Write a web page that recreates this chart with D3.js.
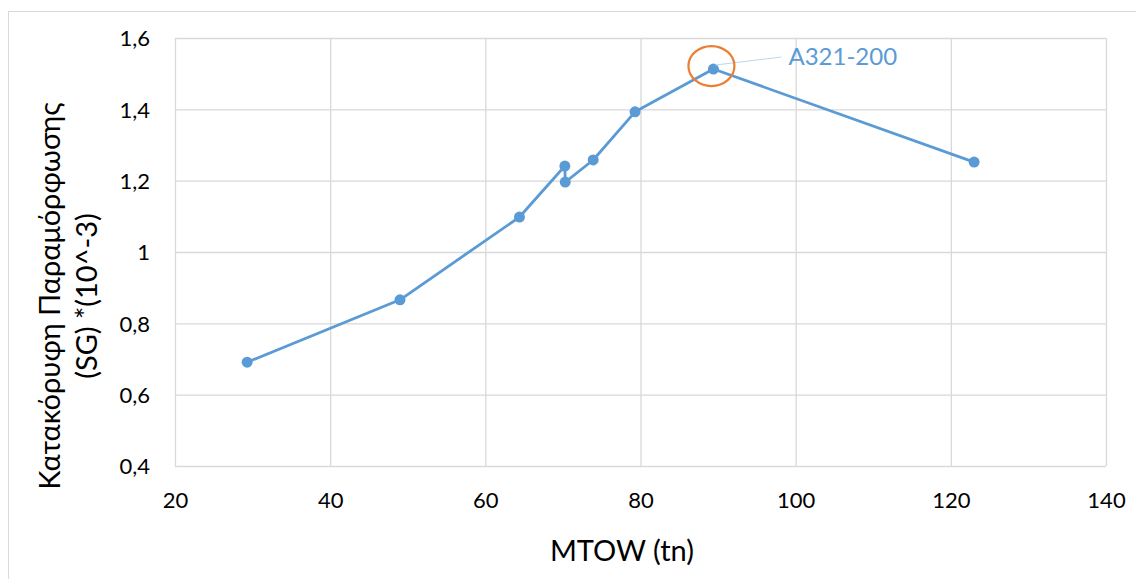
<!DOCTYPE html>
<html><head><meta charset="utf-8">
<script src="https://cdn.jsdelivr.net/npm/d3@7"></script>
<style>body{margin:0;background:#fff}svg{display:block}text{font-family:Lato,"Open Sans",sans-serif}</style>
</head><body>
<svg id="c" width="1136" height="579"></svg>
<script>
const mtow = [29.3, 49.0, 64.4, 70.25, 70.3, 73.9, 79.3, 89.4, 123.0];
const sg   = [0.691, 0.866, 1.098, 1.241, 1.196, 1.258, 1.393, 1.513, 1.252];
const xTicks = [20, 40, 60, 80, 100, 120, 140];
const yTicks = [0.4, 0.6, 0.8, 1.0, 1.2, 1.4, 1.6];
const highlightIndex = 7;
const highlightLabel = "A321-200";
const xTitle = "MTOW (tn)";
const yTitle = ["Κατακόρυφη Παραμόρφωσης", "(SG) *(10^-3)"];

const svg = d3.select("#c");
const L = 175, R = 1106, T = 38, B = 466;
svg.append("rect").attr("x", 8.5).attr("y", 11.5).attr("width", 1140).attr("height", 580)
  .attr("fill", "none").attr("stroke", "#D9D9D9").attr("stroke-width", 1);

const x = d3.scaleLinear().domain([20, 140]).range([L, R]);
const y = d3.scaleLinear().domain([0.4, 1.6]).range([B, T]);
const fmt = v => String(+v.toFixed(1)).replace(".", ",");

// gridlines + tick labels
const gx = svg.append("g").attr("transform", `translate(0,${B})`)
  .call(d3.axisBottom(x).tickValues(xTicks).tickSize(-(B - T)).tickFormat(fmt));
const gy = svg.append("g").attr("transform", `translate(${L},0)`)
  .call(d3.axisLeft(y).tickValues(yTicks).tickSize(-(R - L)).tickFormat(fmt));
[gx, gy].forEach(g => {
  g.select(".domain").remove();
  g.selectAll(".tick line").attr("stroke", "#D9D9D9").attr("stroke-width", 1.3);
  g.selectAll(".tick text").attr("fill", "#000").style("font-size", "22px")
    .style("font-family", "Lato,'Open Sans',sans-serif");
});
gx.selectAll(".tick text").attr("dy", null).attr("y", 42);
gy.selectAll(".tick text").attr("x", -25).attr("dy", "0.36em");

// line and markers
const pts = mtow.map((m, i) => [m, sg[i]]);
svg.append("path").datum(pts)
  .attr("fill", "none").attr("stroke", "#5B9BD5").attr("stroke-width", 2.8)
  .attr("stroke-linejoin", "round")
  .attr("d", d3.line().x(d => x(d[0])).y(d => y(d[1])));
svg.append("g").selectAll("circle").data(pts).join("circle")
  .attr("cx", d => x(d[0])).attr("cy", d => y(d[1])).attr("r", 5.5)
  .attr("fill", "#5B9BD5");

// highlight
const hx = x(mtow[highlightIndex]), hy = y(sg[highlightIndex]);
svg.append("line").attr("x1", hx + 2).attr("y1", hy - 4).attr("x2", hx + 68).attr("y2", hy - 12)
  .attr("stroke", "#BDD7EE").attr("stroke-width", 1);
svg.append("ellipse").attr("cx", hx - 2).attr("cy", hy - 3).attr("rx", 23).attr("ry", 20)
  .attr("fill", "none").attr("stroke", "#ED7D31").attr("stroke-width", 2.2);
svg.append("text").attr("x", hx + 75).attr("y", hy - 4).text(highlightLabel)
  .attr("fill", "#5B9BD5").style("font-size", "24px");

// titles
svg.append("text").attr("x", 622).attr("y", 561).attr("text-anchor", "middle")
  .style("font-size", "29px").attr("fill", "#000").text(xTitle);
const yt = svg.append("text").attr("transform", `translate(0,296) rotate(-90)`)
  .attr("text-anchor", "middle").style("font-size", "29px").attr("fill", "#000");
yt.append("tspan").attr("x", 0).attr("y", 60).text(yTitle[0]);
yt.append("tspan").attr("x", 0).attr("y", 97).text(yTitle[1]);
</script>
</body></html>
